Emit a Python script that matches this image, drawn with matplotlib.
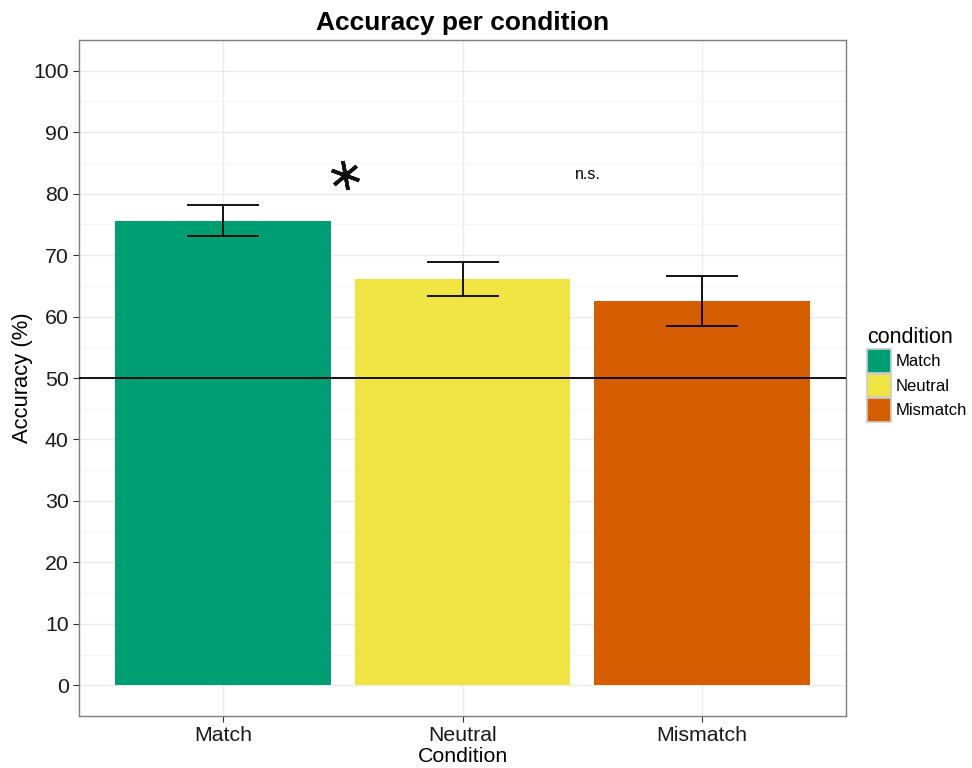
import matplotlib.pyplot as plt
from matplotlib.patches import Patch
import numpy as np

conditions = ['Match', 'Neutral', 'Mismatch']
accuracy = [75.6, 66.1, 62.6]
err_low = [73.1, 63.4, 58.5]
err_high = [78.1, 68.9, 66.6]
colors = ['#009E73', '#F0E442', '#D55E00']
chance = 50
sig_x = [1.51, 2.525]
sig_height = 83.1
ns_label = 'n.s.'

plt.rcParams['font.family'] = ['Liberation Sans', 'DejaVu Sans']

fig = plt.figure(figsize=(9.72, 7.68), dpi=100)
ax = fig.add_axes([79 / 972, 1 - 716 / 768, (846 - 79) / 972, (716 - 40) / 768])

x = np.arange(1, len(conditions) + 1)
acc = np.array(accuracy)
yerr = [acc - np.array(err_low), np.array(err_high) - acc]

ax.bar(x, acc, width=0.9, color=colors, zorder=2)
ax.errorbar(x, acc, yerr=yerr, fmt='none', ecolor='black', elinewidth=1.3,
            capsize=26, capthick=1.3, zorder=3)
ax.axhline(chance, color='black', linewidth=1.3, zorder=4)

# significance marks
ax.plot(sig_x[0], sig_height, marker=(6, 2, 10), markersize=21,
        markeredgewidth=2.6, color='#111111', zorder=5)
ax.text(sig_x[1], sig_height, ns_label, fontsize=11.5, ha='center', va='center')

ax.set_xlim(0.4, 3.6)
ax.set_ylim(-5, 105)
ax.set_yticks(range(0, 101, 10))
ax.set_yticks(range(5, 101, 10), minor=True)
ax.set_xticks(x)
ax.set_xticklabels(conditions)
ax.tick_params(axis='both', which='major', labelsize=15.3, length=4, color='#333333',
               labelcolor='#1a1a1a')
ax.tick_params(axis='y', which='minor', length=0)
ax.grid(which='major', color='#ebebeb', linewidth=1, zorder=0)
ax.grid(which='minor', axis='y', color='#f5f5f5', linewidth=0.8, zorder=0)
ax.set_axisbelow(True)
for s in ax.spines.values():
    s.set_color('#7f7f7f')
    s.set_linewidth(1)

ax.set_xlabel('Condition', fontsize=15.4, labelpad=1)
ax.set_ylabel('Accuracy (%)', fontsize=15.8, labelpad=0)
ax.set_title('Accuracy per condition', fontsize=19, fontweight='bold', pad=7)

handles = [Patch(facecolor=c, edgecolor='#cccccc', linewidth=1.2) for c in colors]
leg = fig.legend(handles, conditions, title='condition', loc='upper left',
                 bbox_to_anchor=(864 / 972, 1 - 324 / 768), frameon=False,
                 fontsize=12, title_fontsize=15.5, handlelength=1.4, handleheight=1.8,
                 handletextpad=0.3, labelspacing=0.05, borderaxespad=0, borderpad=0.2)
leg._legend_box.align = 'left'

fig.savefig('out.png', dpi=100)
